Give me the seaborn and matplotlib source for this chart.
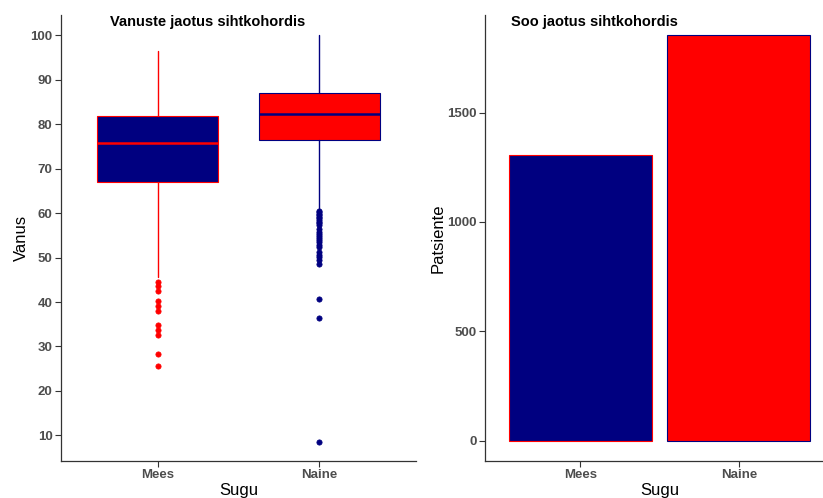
import matplotlib
matplotlib.use("Agg")
import matplotlib.pyplot as plt
import seaborn as sns
import pandas as pd

# Categories and counts
sexes = ["Mees", "Naine"]
patients = [1308, 1853]

# Age distribution summary per sex
age_whislo = [45.6, 61.0]
age_q1 = [67.0, 76.5]
age_med = [75.8, 82.2]
age_q3 = [81.9, 87.1]
age_whishi = [96.4, 100.0]
outliers_mees = [44.4, 43.6, 42.5, 40.2, 39.1, 37.9, 34.8, 33.6, 32.5, 28.3, 25.6]
outliers_naine = [60.5, 60.2, 59.8, 59.5, 59.2, 58.8, 58.5, 58.1, 57.7, 57.3,
                  56.4, 55.8, 55.3, 54.9, 54.4, 53.9, 53.4, 52.8, 52.4,
                  51.2, 50.6, 50.1, 49.5, 48.6, 40.6, 36.4, 8.6]
outliers = [outliers_mees, outliers_naine]

fill_colors = ["#000080", "#FF0000"]
edge_colors = ["#FF0000", "#000080"]

sns.set_theme(style="ticks")
plt.rcParams["font.family"] = ["Liberation Sans", "DejaVu Sans"]

W, H = 823, 498
fig = plt.figure(figsize=(W / 100, H / 100), dpi=100)
ax1 = fig.add_axes([61 / W, 1 - 461 / H, 355 / W, 446 / H])
ax2 = fig.add_axes([485 / W, 1 - 461 / H, 349 / W, 446 / H])

# Box plot of age by sex
for i, s in enumerate(sexes):
    st = dict(label=s, whislo=age_whislo[i], q1=age_q1[i], med=age_med[i],
              q3=age_q3[i], whishi=age_whishi[i], fliers=outliers[i])
    ax1.bxp([st], positions=[i], widths=0.75, patch_artist=True, showcaps=False,
            manage_ticks=False,
            boxprops=dict(facecolor=fill_colors[i], edgecolor=edge_colors[i], linewidth=0.8),
            medianprops=dict(color=edge_colors[i], linewidth=1.8),
            whiskerprops=dict(color=edge_colors[i], linewidth=1.0),
            flierprops=dict(marker="o", markerfacecolor=edge_colors[i],
                            markeredgecolor=edge_colors[i], markersize=3.8,
                            markeredgewidth=0.5))

# Bar chart of patient counts by sex
df = pd.DataFrame({"Sugu": sexes, "Patsiente": patients})
sns.barplot(data=df, x="Sugu", y="Patsiente", hue="Sugu", palette=fill_colors,
            width=0.9, legend=False, ax=ax2, linewidth=0.8, saturation=1)
for patch, ec in zip(ax2.patches, edge_colors):
    patch.set_edgecolor(ec)

ax1.set_xlim(-0.6, 1.6)
ax1.set_ylim(4.24, 104.56)
ax1.set_xticks([0, 1])
ax1.set_xticklabels(sexes)
ax1.set_yticks(range(10, 101, 10))
ax2.set_xlim(-0.6, 1.6)
ax2.set_ylim(-92.6, 1945.6)
ax2.set_yticks([0, 500, 1000, 1500])

for ax, ylab in [(ax1, "Vanus"), (ax2, "Patsiente")]:
    sns.despine(ax=ax)
    for sp in ["left", "bottom"]:
        ax.spines[sp].set_color("#333333")
        ax.spines[sp].set_linewidth(0.9)
    ax.tick_params(axis="both", length=4, width=0.8, color="#333333",
                   labelsize=9.5, labelcolor="#4D4D4D", pad=2)
    for lbl in ax.get_xticklabels() + ax.get_yticklabels():
        lbl.set_fontweight("bold")
    ax.set_xlabel("Sugu", fontsize=12, color="black", labelpad=1)
    ax.set_ylabel(ylab, fontsize=12, color="black", labelpad=1)

fig.text(110 / W, 1 - 22 / H, "Vanuste jaotus sihtkohordis", ha="left", va="center",
         fontsize=10.5, fontweight="bold", color="black")
fig.text(511 / W, 1 - 22 / H, "Soo jaotus sihtkohordis", ha="left", va="center",
         fontsize=10.5, fontweight="bold", color="black")

fig.savefig("out.png", dpi=100)
